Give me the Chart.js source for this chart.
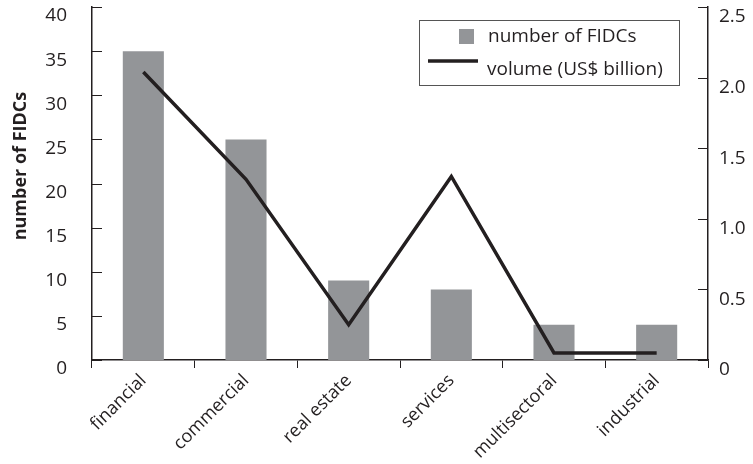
<!DOCTYPE html>
<html>
<head>
<meta charset="utf-8">
<script src="https://cdn.jsdelivr.net/npm/chart.js@4"></script>
<style>
  html, body { margin: 0; padding: 0; background: #fff; }
  #wrap { width: 753px; height: 464px; }
</style>
</head>
<body>
<div id="wrap"><canvas id="fidcChart" width="753" height="464"></canvas></div>
<script>
// data
const sectors = ['financial', 'commercial', 'real estate', 'services', 'multisectoral', 'industrial'];
const fidcCount = [35, 25, 9, 8, 4, 4];
const volumeBn = [2.04, 1.28, 0.25, 1.3, 0.05, 0.05];
const countTicks = [0, 5, 10, 15, 20, 25, 30, 35, 40];
const volumeTicks = [0, 0.5, 1.0, 1.5, 2.0, 2.5];
const yTitle = 'number of FIDCs';

const ink = '#231f20';
const barGrey = '#939598';
const fontFamily = '"Open Sans", "Noto Sans", sans-serif';

// short inward ticks on both value axes, the y title and the boxed legend
const extras = {
    id: 'extras',
    afterDraw(chart) {
        const c = chart.ctx;
        const area = chart.chartArea;
        const yl = chart.scales.y;
        const yr = chart.scales.y1;
        c.save();
        c.strokeStyle = ink;
        c.lineWidth = 1;
        countTicks.forEach(v => {
            const py = Math.round(yl.getPixelForValue(v)) + 0.5;
            c.beginPath(); c.moveTo(area.left, py); c.lineTo(area.left + 10, py); c.stroke();
        });
        volumeTicks.forEach(v => {
            const py = Math.round(yr.getPixelForValue(v)) + 0.5;
            c.beginPath(); c.moveTo(area.right, py); c.lineTo(area.right - 10, py); c.stroke();
        });

        // y axis title
        c.fillStyle = ink;
        c.font = 'bold 18px ' + fontFamily;
        c.textAlign = 'center';
        c.textBaseline = 'middle';
        c.translate(21, area.top + 159);
        c.rotate(-Math.PI / 2);
        c.fillText(yTitle, 0, 0);
        c.setTransform(1, 0, 0, 1, 0, 0);

        // legend
        const bx = area.right - 289, by = area.top + 13, bw = 260, bh = 65;
        c.fillStyle = '#fff';
        c.fillRect(bx, by, bw, bh);
        c.strokeStyle = '#555';
        c.strokeRect(bx + 0.5, by + 0.5, bw, bh);
        const ds = chart.data.datasets;
        c.font = '19px ' + fontFamily;
        c.textAlign = 'left';
        c.fillStyle = ds[1].backgroundColor;
        c.fillRect(bx + 40, by + 9, 15, 15);
        c.fillStyle = ink;
        c.fillText(ds[1].label, bx + 69, by + 17);
        c.strokeStyle = ds[0].borderColor;
        c.lineWidth = 3.5;
        c.beginPath(); c.moveTo(bx + 9, by + 41); c.lineTo(bx + 59, by + 41); c.stroke();
        c.fillText(ds[0].label, bx + 68, by + 50);
        c.restore();
    }
};

const ctx = document.getElementById('fidcChart').getContext('2d');
const chart = new Chart(ctx, {
    data: {
        labels: sectors,
        datasets: [{
            type: 'line',
            label: 'volume (US$ billion)',
            data: volumeBn,
            borderColor: ink,
            borderWidth: 3.5,
            pointRadius: 0,
            tension: 0,
            yAxisID: 'y1',
            order: 0
        }, {
            type: 'bar',
            label: 'number of FIDCs',
            data: fidcCount,
            backgroundColor: barGrey,
            barPercentage: 0.4,
            categoryPercentage: 1,
            yAxisID: 'y',
            order: 1
        }]
    },
    options: {
        responsive: false,
        animation: false,
        layout: { padding: { top: 7, left: 0, right: 0, bottom: 0 } },
        plugins: {
            legend: { display: false },
            tooltip: { enabled: false }
        },
        scales: {
            x: {
                offset: true,
                grid: { offset: true, drawOnChartArea: false, drawTicks: true, tickLength: 8, color: ink },
                border: { color: ink, width: 1.5 },
                ticks: {
                    color: ink,
                    font: { family: fontFamily, size: 18 },
                    maxRotation: 45,
                    minRotation: 45,
                    padding: 2
                },
                afterFit(s) { s.height = 104; s.paddingLeft = 0; s.paddingRight = 0; }
            },
            y: {
                position: 'left',
                min: 0,
                max: 40,
                grid: { display: false, drawTicks: false },
                border: { color: ink, width: 1.5 },
                ticks: {
                    stepSize: 5,
                    color: ink,
                    padding: 25,
                    labelOffset: 9,
                    font: { family: fontFamily, size: 19 }
                },
                afterFit(s) { s.width = 92; s.paddingTop = 0; s.paddingBottom = 0; }
            },
            y1: {
                position: 'right',
                min: 0,
                max: 2.5,
                grid: { display: false, drawTicks: false },
                border: { color: ink, width: 1.5 },
                ticks: {
                    stepSize: 0.5,
                    color: ink,
                    padding: 11,
                    labelOffset: 10,
                    font: { family: fontFamily, size: 19 },
                    callback: v => v === 0 ? '0' : v.toFixed(1)
                },
                afterFit(s) { s.width = 45; s.paddingTop = 0; s.paddingBottom = 0; }
            }
        }
    },
    plugins: [extras]
});
</script>
</body>
</html>
